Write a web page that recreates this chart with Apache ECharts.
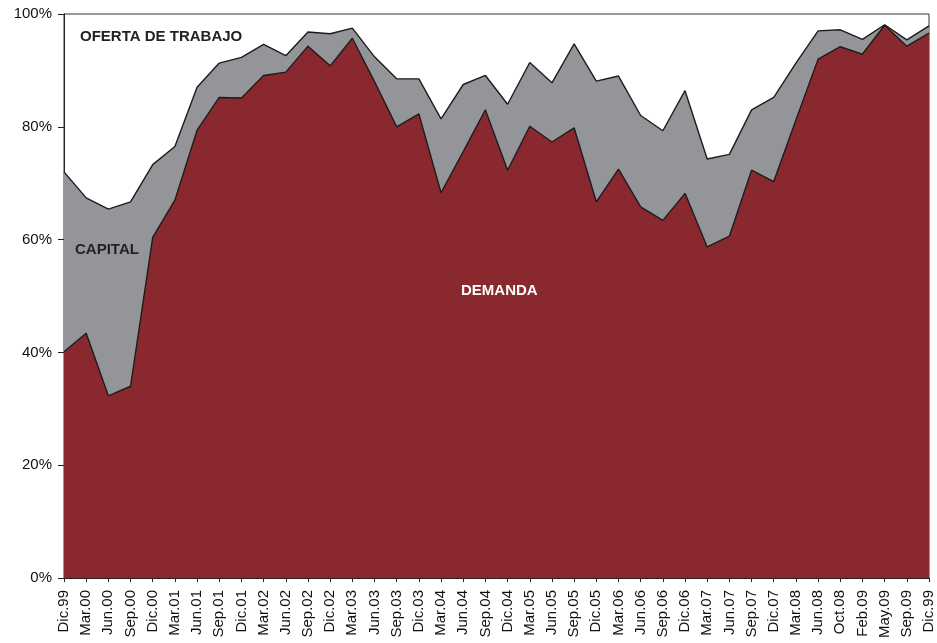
<!DOCTYPE html>
<html>
<head>
<meta charset="utf-8">
<script src="https://cdn.jsdelivr.net/npm/echarts@6/dist/echarts.min.js"></script>
<style>
  html, body { margin: 0; padding: 0; background: #fff; }
  #chart { width: 937px; height: 643px; }
</style>
</head>
<body>
<div id="chart"></div>
<script>
  // ── Datos ────────────────────────────────────────────────────────────────
  const periodos = [
    'Dic.99', 'Mar.00', 'Jun.00', 'Sep.00', 'Dic.00', 'Mar.01', 'Jun.01', 'Sep.01', 'Dic.01', 'Mar.02',
    'Jun.02', 'Sep.02', 'Dic.02', 'Mar.03', 'Jun.03', 'Sep.03', 'Dic.03', 'Mar.04', 'Jun.04', 'Sep.04',
    'Dic.04', 'Mar.05', 'Jun.05', 'Sep.05', 'Dic.05', 'Mar.06', 'Jun.06', 'Sep.06', 'Dic.06', 'Mar.07',
    'Jun.07', 'Sep.07', 'Dic.07', 'Mar.08', 'Jun.08', 'Oct.08', 'Feb.09', 'May.09', 'Sep.09', 'Dic.99'
  ];

  // participación de la demanda (%)
  const demanda = [
    40.1, 43.4, 32.3, 34.0, 60.4, 67.0, 79.4, 85.2, 85.1, 89.1,
    89.7, 94.3, 90.8, 95.7, 88.0, 80.0, 82.3, 68.3, 75.6, 83.0,
    72.3, 80.1, 77.3, 79.8, 66.7, 72.5, 65.8, 63.4, 68.2, 58.7,
    60.6, 72.3, 70.3, 81.2, 92.0, 94.2, 92.9, 98.0, 94.3, 96.6
  ];

  // participación del capital (%)
  const capital = [
    31.9, 24.0, 33.1, 32.7, 12.9, 9.5, 7.6, 6.1, 7.2, 5.5,
    2.9, 2.5, 5.7, 1.8, 4.4, 8.5, 6.2, 13.1, 11.9, 6.1,
    11.7, 11.3, 10.5, 14.9, 21.4, 16.5, 16.2, 15.9, 18.2, 15.6,
    14.5, 10.7, 14.9, 10.1, 5.0, 3.0, 2.6, 0.1, 1.1, 1.3
  ];

  const yTicks = [0, 20, 40, 60, 80, 100];

  // ── Gráfico ──────────────────────────────────────────────────────────────
  const FONT = '"Liberation Sans", Arial, sans-serif';
  const inst = echarts.init(document.getElementById('chart'), null, { renderer: 'canvas' });

  const lineStyle = { color: '#1c1c1c', width: 1.4 };

  inst.setOption({
    animation: false,
    backgroundColor: '#fff',
    grid: {
      left: 64, right: 8, top: 14, bottom: 65,
      show: true, borderColor: '#333', borderWidth: 1, backgroundColor: 'transparent'
    },
    xAxis: {
      type: 'category',
      data: periodos,
      boundaryGap: false,
      axisLine: { lineStyle: { color: '#222', width: 1 } },
      axisTick: { show: true, length: 4, lineStyle: { color: '#222' } },
      axisLabel: {
        rotate: 90, interval: 0, margin: 12,
        fontFamily: FONT, fontSize: 15, color: '#111'
      },
      splitLine: { show: false }
    },
    yAxis: {
      type: 'value',
      min: yTicks[0], max: yTicks[yTicks.length - 1], interval: 20,
      axisLine: { show: true, lineStyle: { color: '#222', width: 1 } },
      axisTick: { show: true, length: 6, lineStyle: { color: '#222' } },
      axisLabel: {
        formatter: v => `${v}%`, margin: 12,
        fontFamily: FONT, fontSize: 15, color: '#111'
      },
      splitLine: { show: false }
    },
    series: [
      {
        name: 'DEMANDA', type: 'line', stack: 'total', data: demanda,
        symbol: 'none', lineStyle, z: 3,
        areaStyle: { color: '#8a2830', opacity: 1 }
      },
      {
        name: 'CAPITAL', type: 'line', stack: 'total', data: capital,
        symbol: 'none', lineStyle, z: 2,
        areaStyle: { color: '#939598', opacity: 1 }
      }
    ],
    graphic: [
      { type: 'text', z: 100, left: 80, top: 29, style: { text: 'OFERTA DE TRABAJO', font: `bold 15px ${FONT}`, fill: '#222' } },
      { type: 'text', z: 100, left: 75, top: 242, style: { text: 'CAPITAL', font: `bold 15px ${FONT}`, fill: '#222' } },
      { type: 'text', z: 100, left: 461, top: 283, style: { text: 'DEMANDA', font: `bold 15px ${FONT}`, fill: '#fff' } }
    ]
  });
</script>
</body>
</html>
